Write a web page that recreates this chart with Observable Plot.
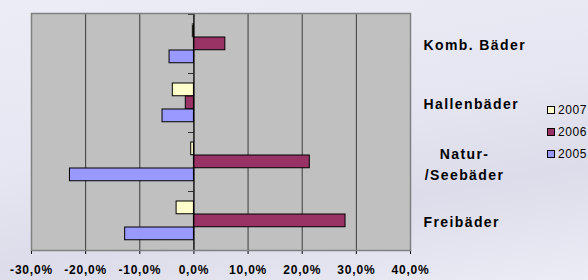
<!DOCTYPE html>
<html>
<head>
<meta charset="utf-8">
<script src="https://cdn.jsdelivr.net/npm/d3@7"></script>
<script src="https://cdn.jsdelivr.net/npm/@observablehq/plot@0.6"></script>
<style>
  html, body { margin: 0; padding: 0; background: #E9E9F4; }
  #wrap { position: relative; width: 588px; height: 280px; overflow: hidden;
          font-family: "Liberation Sans", Arial, sans-serif;
          background: linear-gradient(170deg, #ECECF6 0%, #E6E6F2 45%, #DCDCEA 70%, #ECECF6 100%); }
  #wrap svg { position: absolute; left: 0; top: 0; }
  #wrap svg text { letter-spacing: 0.8px; }
  #wrap svg g[aria-label="text"] text { letter-spacing: 1.4px; }
  #legend { position: absolute; left: 547px; top: 99px; font-size: 12px; letter-spacing: 0.6px; color: #000; }
  #legend .row { height: 22px; display: flex; align-items: center; white-space: nowrap; }
  #legend .sw { width: 6px; height: 6px; border: 1px solid #000; margin-right: 3px; flex: none; }
</style>
</head>
<body>
<div id="wrap"><div id="legend"></div></div>
<script>
// ---- data ----
const categories = ["Komb. Bäder", "Hallenbäder", "Natur-\n/Seebäder", "Freibäder"];
const years = ["2007", "2006", "2005"];
const values2007 = [-0.2, -3.9, -0.5, -3.2];
const values2006 = [5.8, -1.5, 21.4, 28.0];
const values2005 = [-4.5, -5.8, -22.9, -12.7];
const xTicks = [-30, -20, -10, 0, 10, 20, 30, 40];
const colors = ["#FFFFCC", "#993366", "#9999FF"];

const seriesValues = [values2007, values2006, values2005];
const rows = [];
years.forEach((yr, i) => categories.forEach((c, j) => rows.push({cat: c, year: yr, value: seriesValues[i][j]})));

// ---- layout ----
const W = 588, H = 280, mT = 13, mB = 30, mL = 31, mR = 178;
const bw = (H - mT - mB) / categories.length;
const barH = 13, pad = 10;
const fmt = d => d.toFixed(1).replace(".", ",") + "%";

const barMarks = years.map((yr, i) =>
  Plot.barX(rows.filter(r => r.year === yr), {
    x1: () => 0, x2: "value", y: "cat",
    fill: colors[i], stroke: "#000", strokeWidth: 1,
    insetTop: pad + barH * i, insetBottom: bw - pad - barH * (i + 1)
  })
);

const singleLabels = categories.filter(c => !c.includes("\n"));
const multiLabels = categories.filter(c => c.includes("\n"));

const chart = Plot.plot({
  width: W, height: H,
  marginTop: mT, marginBottom: mB, marginLeft: mL, marginRight: mR,
  style: { background: "transparent", fontFamily: "Liberation Sans, Arial, sans-serif",
           fontSize: "12px", fontWeight: "bold", color: "#000", overflow: "visible" },
  x: { domain: [-30, 40], ticks: xTicks, tickFormat: fmt, tickSize: 4, tickPadding: 11, label: null },
  y: { domain: categories, axis: null, padding: 0 },
  marks: [
    Plot.frame({ fill: "#C0C0C0", stroke: "none" }),
    Plot.ruleX(xTicks, { stroke: "#3a3a3a", strokeWidth: 1 }),
    ...barMarks,
    Plot.ruleX([0], { stroke: "#000", strokeWidth: 1 }),
    Plot.barX(categories, { y: d => d, x1: () => -1, x2: () => 0, fill: "#000", insetBottom: bw - 1 }),
    Plot.frame({ stroke: "#808080", strokeWidth: 1.5 }),
    Plot.text(singleLabels, { y: d => d, text: d => d, frameAnchor: "right", dx: 13, dy: 2,
                              textAnchor: "start", fontSize: 14, fontWeight: "bold", fill: "#000" }),
    Plot.text(multiLabels, { y: d => d, text: d => d, frameAnchor: "right", dx: 54, dy: 1,
                             textAnchor: "middle", lineHeight: 1.45, fontSize: 14, fontWeight: "bold", fill: "#000" })
  ]
});
document.getElementById("wrap").appendChild(chart);

// ---- legend ----
const legend = document.getElementById("legend");
years.forEach((yr, i) => {
  const row = document.createElement("div");
  row.className = "row";
  const sw = document.createElement("span");
  sw.className = "sw";
  sw.style.background = colors[i];
  const t = document.createElement("span");
  t.textContent = yr;
  row.appendChild(sw); row.appendChild(t);
  legend.appendChild(row);
});
</script>
</body>
</html>
